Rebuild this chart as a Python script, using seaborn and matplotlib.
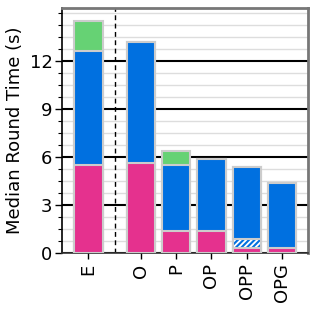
import matplotlib
matplotlib.use('Agg')
import matplotlib.pyplot as plt
from matplotlib.ticker import FixedLocator, MultipleLocator
import seaborn as sns
import pandas as pd

# bar positions (E is split off from the rest by a dashed line)
labels = ['E', 'O', 'P', 'OP', 'OPP', 'OPG']
positions = [0, 1.5, 2.5, 3.5, 4.5, 5.5]

# stacked segments, seconds
pink = [5.5, 5.6, 1.4, 1.4, 0.3, 0.3]
hatched = [0.0, 0.0, 0.0, 0.0, 0.55, 0.0]
blue = [7.1, 7.6, 4.1, 4.5, 4.5, 4.1]
green = [1.9, 0.0, 0.9, 0.0, 0.0, 0.0]

PINK = '#E5318E'
BLUE = '#0070E0'
GREEN = '#66D274'
EDGE = '#CCCCCC'

df = pd.DataFrame({'x': positions, 'pink': pink, 'hatched': hatched,
                   'blue': blue, 'green': green})
df['c_pink'] = df['pink']
df['c_hatch'] = df['c_pink'] + df['hatched']
df['c_blue'] = df['c_hatch'] + df['blue']
df['c_green'] = df['c_blue'] + df['green']

sns.set_style('white', {'text.color': 'black', 'axes.labelcolor': 'black',
                        'xtick.color': 'black', 'ytick.color': 'black'})
plt.rcParams['font.family'] = ['DejaVu Sans']
plt.rcParams['hatch.linewidth'] = 1.5

fig = plt.figure(figsize=(3.17, 3.10), dpi=100)
ax = fig.add_axes([0.196, 0.184, 0.776, 0.79])

common = dict(x='x', native_scale=True, errorbar=None, width=0.8,
              ax=ax, zorder=3)

# draw cumulative totals from the top down so they look stacked
sns.barplot(data=df, y='c_green', color=GREEN, saturation=1,
            edgecolor=EDGE, linewidth=1.5, **common)
sns.barplot(data=df, y='c_blue', color=BLUE, saturation=1,
            edgecolor=EDGE, linewidth=1.5, **common)
sns.barplot(data=df[df['hatched'] > 0], y='c_hatch', color='white', saturation=1,
            edgecolor=BLUE, linewidth=0, hatch='//////', **common)
sns.barplot(data=df[df['hatched'] > 0], y='c_hatch', fill=False,
            edgecolor=EDGE, linewidth=1.5, **common)
sns.barplot(data=df, y='c_pink', color=PINK, saturation=1,
            edgecolor=EDGE, linewidth=1.5, **common)

ax.axvline(0.75, color='black', linestyle=(0, (3.5, 2.5)), linewidth=1, zorder=2)

ax.set_xlim(-0.75, 6.25)
ax.set_ylim(0, 15.3)
ax.set_xticks(positions)
ax.set_xticklabels(labels, rotation=90, fontsize=13)
ax.set_xlabel('')
ax.set_ylabel('Median Round Time (s)', fontsize=13)

ax.yaxis.set_major_locator(FixedLocator([0, 3, 6, 9, 12]))
ax.yaxis.set_minor_locator(MultipleLocator(0.75))
ax.tick_params(axis='y', which='major', labelsize=13, length=5, width=1,
               direction='out', left=True, pad=2)
ax.tick_params(axis='y', which='minor', length=3, width=0.8, left=True)
ax.tick_params(axis='x', which='major', length=4, width=1, bottom=True)

ax.grid(which='minor', axis='y', color='#DDDDDD', linewidth=1, zorder=0)
ax.grid(which='major', axis='y', color='black', linewidth=1.5, zorder=1)
ax.set_axisbelow(True)

ax.spines['left'].set_color('black')
ax.spines['left'].set_linewidth(1.2)
ax.spines['bottom'].set_color('#333333')
ax.spines['bottom'].set_linewidth(1.2)
for s in ['top', 'right']:
    ax.spines[s].set_color('#777777')
    ax.spines[s].set_linewidth(2)

fig.savefig('out.png', dpi=100)
